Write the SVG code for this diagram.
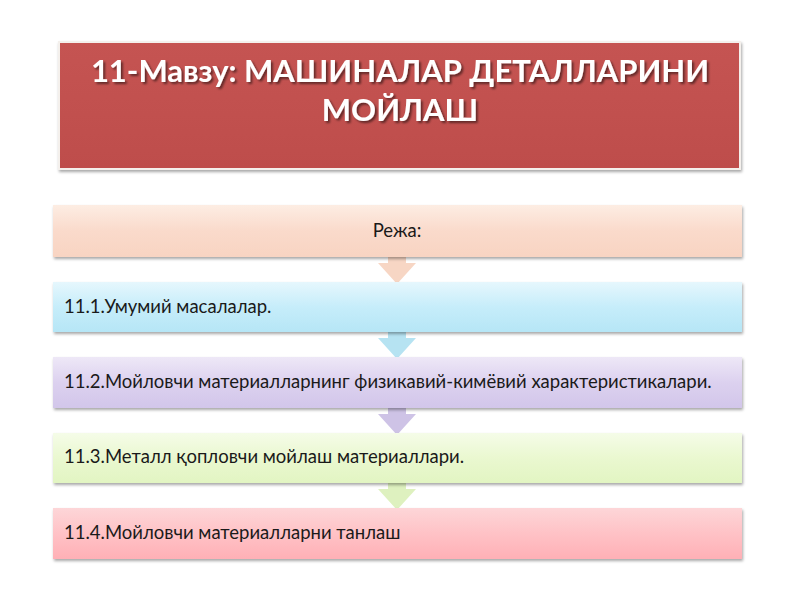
<svg xmlns="http://www.w3.org/2000/svg" width="800" height="600" viewBox="0 0 800 600">
<defs>
<filter id="sh" x="-5%" y="-20%" width="110%" height="150%">
<feGaussianBlur in="SourceAlpha" stdDeviation="1.5"/>
<feOffset dx="1" dy="2" result="o"/>
<feComponentTransfer><feFuncA type="linear" slope="0.35"/></feComponentTransfer>
<feMerge><feMergeNode/><feMergeNode in="SourceGraphic"/></feMerge>
</filter>
<filter id="tsh" x="-5%" y="-20%" width="110%" height="150%">
<feGaussianBlur in="SourceAlpha" stdDeviation="1"/>
<feOffset dx="1.5" dy="1.5" result="o"/>
<feComponentTransfer><feFuncA type="linear" slope="0.5"/></feComponentTransfer>
<feMerge><feMergeNode/><feMergeNode in="SourceGraphic"/></feMerge>
</filter>
<linearGradient id="gT" x1="0" y1="0" x2="0" y2="1"><stop offset="0" stop-color="#C55452"/><stop offset="1" stop-color="#BE4D4B"/></linearGradient>
<linearGradient id="g1" x1="0" y1="0" x2="0" y2="1"><stop offset="0" stop-color="#FDEDE3"/><stop offset="0.5" stop-color="#FADACB"/><stop offset="1" stop-color="#F8D4C2"/></linearGradient>
<linearGradient id="g2" x1="0" y1="0" x2="0" y2="1"><stop offset="0" stop-color="#E6F7FD"/><stop offset="0.5" stop-color="#C6EDFA"/><stop offset="1" stop-color="#B6E6F6"/></linearGradient>
<linearGradient id="g3" x1="0" y1="0" x2="0" y2="1"><stop offset="0" stop-color="#EEE8F7"/><stop offset="0.5" stop-color="#DCD1EF"/><stop offset="1" stop-color="#D2C6EA"/></linearGradient>
<linearGradient id="g4" x1="0" y1="0" x2="0" y2="1"><stop offset="0" stop-color="#F5FCE8"/><stop offset="0.5" stop-color="#EAF8D0"/><stop offset="1" stop-color="#E2F5C2"/></linearGradient>
<linearGradient id="g5" x1="0" y1="0" x2="0" y2="1"><stop offset="0" stop-color="#FDD6D8"/><stop offset="0.5" stop-color="#FFC2C6"/><stop offset="1" stop-color="#FFB0B6"/></linearGradient>
<path id="arr" d="M-9,-8 H9 V6 H19 L0,27 L-19,6 H-9 Z"/>
</defs>
<style>
.bx{filter:url(#sh)}
.t{font-family:Lato,"Noto Sans","DejaVu Sans",sans-serif;font-size:18.5px;fill:#1a1a1a}
.title{font-family:Lato,"Noto Sans","DejaVu Sans",sans-serif;font-size:31px;font-weight:bold;fill:#ffffff;filter:url(#tsh)}
</style>
<rect width="800" height="600" fill="#ffffff"/>
<g id="title">
<rect x="58" y="41" width="683" height="129" fill="#F4F0EC" filter="url(#sh)"/>
<rect x="60" y="43" width="679" height="125" fill="url(#gT)"/>
<text class="title" x="400" y="82" text-anchor="middle">11-Мавзу: МАШИНАЛАР ДЕТАЛЛАРИНИ</text>
<text class="title" x="400" y="121" text-anchor="middle">МОЙЛАШ</text>
</g>
<g id="connectors">
<use href="#arr" x="397" y="257" fill="#F6CFBA" opacity="0.85"/>
<use href="#arr" x="397" y="332" fill="#A9DEF0" opacity="0.85"/>
<use href="#arr" x="397" y="408" fill="#C5B8E2" opacity="0.85"/>
<use href="#arr" x="397" y="483" fill="#D8EEB4" opacity="0.85"/>
</g>
<g id="n0"><rect class="bx" x="53" y="205" width="689" height="52" fill="url(#g1)"/><text class="t" x="397" y="237" text-anchor="middle">Режа:</text></g>
<g id="n1"><rect class="bx" x="53" y="282" width="689" height="50" fill="url(#g2)"/><text class="t" x="64" y="313">11.1.Умумий масалалар.</text></g>
<g id="n2"><rect class="bx" x="53" y="357" width="689" height="51" fill="url(#g3)"/><text class="t" x="64" y="388">11.2.Мойловчи материалларнинг физикавий-кимёвий характеристикалари.</text></g>
<g id="n3"><rect class="bx" x="53" y="433" width="689" height="50" fill="url(#g4)"/><text class="t" x="64" y="463">11.3.Металл қопловчи мойлаш материаллари.</text></g>
<g id="n4"><rect class="bx" x="53" y="508" width="689" height="51" fill="url(#g5)"/><text class="t" x="64" y="539">11.4.Мойловчи материалларни танлаш</text></g>
</svg>
